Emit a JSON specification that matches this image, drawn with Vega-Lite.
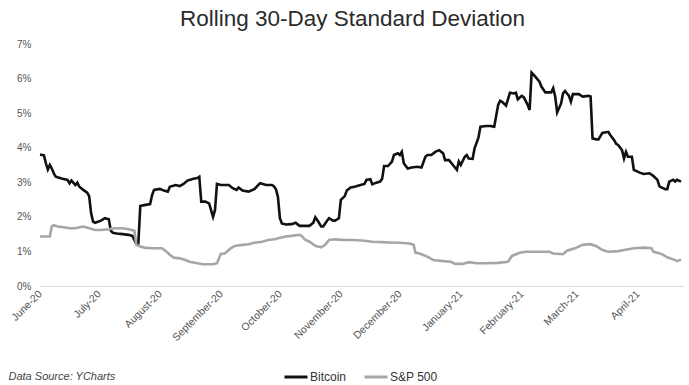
{
  "$schema": "https://vega.github.io/schema/vega-lite/v6.json",
  "autosize": {"type": "none"},
  "padding": {"left": 40, "top": 44, "right": 6, "bottom": 99},
  "width": 643,
  "height": 242,
  "background": "white",
  "config": {"font": "Liberation Sans", "view": {"stroke": null}},
  "title": {"text": "Rolling 30-Day Standard Deviation", "fontSize": 22.5, "fontWeight": "normal", "color": "#2b2b2b", "anchor": "middle", "dx": -9, "offset": 9, "font": "Liberation Sans"},
  "data": {"values": [
    {"series":"Bitcoin","date":"2020-06-01","value":3.80},{"series":"Bitcoin","date":"2020-06-03","value":3.78},{"series":"Bitcoin","date":"2020-06-04","value":3.55},{"series":"Bitcoin","date":"2020-06-05","value":3.37},{"series":"Bitcoin","date":"2020-06-06","value":3.50},{"series":"Bitcoin","date":"2020-06-07","value":3.40},{"series":"Bitcoin","date":"2020-06-08","value":3.26},{"series":"Bitcoin","date":"2020-06-09","value":3.16},{"series":"Bitcoin","date":"2020-06-12","value":3.11},{"series":"Bitcoin","date":"2020-06-15","value":3.07},{"series":"Bitcoin","date":"2020-06-16","value":2.97},{"series":"Bitcoin","date":"2020-06-17","value":3.05},{"series":"Bitcoin","date":"2020-06-19","value":2.92},{"series":"Bitcoin","date":"2020-06-20","value":2.99},{"series":"Bitcoin","date":"2020-06-21","value":2.87},{"series":"Bitcoin","date":"2020-06-23","value":2.78},{"series":"Bitcoin","date":"2020-06-25","value":2.70},{"series":"Bitcoin","date":"2020-06-26","value":2.60},{"series":"Bitcoin","date":"2020-06-27","value":2.10},{"series":"Bitcoin","date":"2020-06-28","value":1.86},{"series":"Bitcoin","date":"2020-06-29","value":1.83},
    {"series":"Bitcoin","date":"2020-07-02","value":1.89},{"series":"Bitcoin","date":"2020-07-04","value":1.96},{"series":"Bitcoin","date":"2020-07-06","value":1.93},{"series":"Bitcoin","date":"2020-07-07","value":1.60},{"series":"Bitcoin","date":"2020-07-08","value":1.54},{"series":"Bitcoin","date":"2020-07-10","value":1.52},{"series":"Bitcoin","date":"2020-07-13","value":1.50},{"series":"Bitcoin","date":"2020-07-16","value":1.48},{"series":"Bitcoin","date":"2020-07-18","value":1.45},{"series":"Bitcoin","date":"2020-07-19","value":1.33},{"series":"Bitcoin","date":"2020-07-20","value":1.21},{"series":"Bitcoin","date":"2020-07-21","value":1.23},{"series":"Bitcoin","date":"2020-07-22","value":2.31},{"series":"Bitcoin","date":"2020-07-24","value":2.34},{"series":"Bitcoin","date":"2020-07-27","value":2.37},{"series":"Bitcoin","date":"2020-07-28","value":2.63},{"series":"Bitcoin","date":"2020-07-29","value":2.78},
    {"series":"Bitcoin","date":"2020-08-01","value":2.81},{"series":"Bitcoin","date":"2020-08-03","value":2.76},{"series":"Bitcoin","date":"2020-08-05","value":2.73},{"series":"Bitcoin","date":"2020-08-06","value":2.87},{"series":"Bitcoin","date":"2020-08-09","value":2.92},{"series":"Bitcoin","date":"2020-08-11","value":2.89},{"series":"Bitcoin","date":"2020-08-13","value":2.95},{"series":"Bitcoin","date":"2020-08-15","value":3.05},{"series":"Bitcoin","date":"2020-08-18","value":3.10},{"series":"Bitcoin","date":"2020-08-20","value":3.12},{"series":"Bitcoin","date":"2020-08-21","value":3.16},{"series":"Bitcoin","date":"2020-08-22","value":2.44},{"series":"Bitcoin","date":"2020-08-24","value":2.44},{"series":"Bitcoin","date":"2020-08-26","value":2.39},{"series":"Bitcoin","date":"2020-08-28","value":2.00},{"series":"Bitcoin","date":"2020-08-29","value":2.20},{"series":"Bitcoin","date":"2020-08-30","value":2.95},
    {"series":"Bitcoin","date":"2020-09-01","value":2.92},{"series":"Bitcoin","date":"2020-09-05","value":2.92},{"series":"Bitcoin","date":"2020-09-07","value":2.83},{"series":"Bitcoin","date":"2020-09-09","value":2.78},{"series":"Bitcoin","date":"2020-09-10","value":2.85},{"series":"Bitcoin","date":"2020-09-12","value":2.76},{"series":"Bitcoin","date":"2020-09-15","value":2.73},{"series":"Bitcoin","date":"2020-09-18","value":2.80},{"series":"Bitcoin","date":"2020-09-20","value":2.92},{"series":"Bitcoin","date":"2020-09-21","value":2.97},{"series":"Bitcoin","date":"2020-09-24","value":2.92},{"series":"Bitcoin","date":"2020-09-27","value":2.92},{"series":"Bitcoin","date":"2020-09-28","value":2.88},{"series":"Bitcoin","date":"2020-09-29","value":2.80},{"series":"Bitcoin","date":"2020-09-30","value":2.58},
    {"series":"Bitcoin","date":"2020-10-01","value":1.96},{"series":"Bitcoin","date":"2020-10-02","value":1.81},{"series":"Bitcoin","date":"2020-10-04","value":1.78},{"series":"Bitcoin","date":"2020-10-07","value":1.79},{"series":"Bitcoin","date":"2020-10-09","value":1.83},{"series":"Bitcoin","date":"2020-10-11","value":1.74},{"series":"Bitcoin","date":"2020-10-14","value":1.74},{"series":"Bitcoin","date":"2020-10-16","value":1.74},{"series":"Bitcoin","date":"2020-10-18","value":1.83},{"series":"Bitcoin","date":"2020-10-19","value":1.99},{"series":"Bitcoin","date":"2020-10-20","value":1.91},{"series":"Bitcoin","date":"2020-10-22","value":1.72},{"series":"Bitcoin","date":"2020-10-23","value":1.72},{"series":"Bitcoin","date":"2020-10-25","value":1.89},{"series":"Bitcoin","date":"2020-10-26","value":1.96},{"series":"Bitcoin","date":"2020-10-28","value":1.89},{"series":"Bitcoin","date":"2020-10-29","value":1.89},{"series":"Bitcoin","date":"2020-10-31","value":1.96},
    {"series":"Bitcoin","date":"2020-11-01","value":2.49},{"series":"Bitcoin","date":"2020-11-03","value":2.60},{"series":"Bitcoin","date":"2020-11-04","value":2.76},{"series":"Bitcoin","date":"2020-11-06","value":2.85},{"series":"Bitcoin","date":"2020-11-08","value":2.87},{"series":"Bitcoin","date":"2020-11-11","value":2.92},{"series":"Bitcoin","date":"2020-11-13","value":2.95},{"series":"Bitcoin","date":"2020-11-14","value":3.07},{"series":"Bitcoin","date":"2020-11-16","value":3.09},{"series":"Bitcoin","date":"2020-11-17","value":2.94},{"series":"Bitcoin","date":"2020-11-19","value":2.99},{"series":"Bitcoin","date":"2020-11-21","value":3.02},{"series":"Bitcoin","date":"2020-11-22","value":3.10},{"series":"Bitcoin","date":"2020-11-23","value":3.47},{"series":"Bitcoin","date":"2020-11-25","value":3.47},{"series":"Bitcoin","date":"2020-11-27","value":3.60},{"series":"Bitcoin","date":"2020-11-28","value":3.79},{"series":"Bitcoin","date":"2020-11-30","value":3.84},
    {"series":"Bitcoin","date":"2020-12-01","value":3.79},{"series":"Bitcoin","date":"2020-12-02","value":3.88},{"series":"Bitcoin","date":"2020-12-03","value":3.55},{"series":"Bitcoin","date":"2020-12-05","value":3.40},{"series":"Bitcoin","date":"2020-12-07","value":3.43},{"series":"Bitcoin","date":"2020-12-10","value":3.45},{"series":"Bitcoin","date":"2020-12-12","value":3.43},{"series":"Bitcoin","date":"2020-12-14","value":3.74},{"series":"Bitcoin","date":"2020-12-15","value":3.79},{"series":"Bitcoin","date":"2020-12-17","value":3.79},{"series":"Bitcoin","date":"2020-12-19","value":3.88},{"series":"Bitcoin","date":"2020-12-21","value":3.93},{"series":"Bitcoin","date":"2020-12-23","value":3.84},{"series":"Bitcoin","date":"2020-12-24","value":3.64},{"series":"Bitcoin","date":"2020-12-26","value":3.64},{"series":"Bitcoin","date":"2020-12-28","value":3.50},{"series":"Bitcoin","date":"2020-12-30","value":3.36},{"series":"Bitcoin","date":"2020-12-31","value":3.60},
    {"series":"Bitcoin","date":"2021-01-01","value":3.50},{"series":"Bitcoin","date":"2021-01-03","value":3.74},{"series":"Bitcoin","date":"2021-01-04","value":3.79},{"series":"Bitcoin","date":"2021-01-05","value":3.69},{"series":"Bitcoin","date":"2021-01-07","value":3.68},{"series":"Bitcoin","date":"2021-01-08","value":3.98},{"series":"Bitcoin","date":"2021-01-10","value":4.30},{"series":"Bitcoin","date":"2021-01-11","value":4.61},{"series":"Bitcoin","date":"2021-01-14","value":4.63},{"series":"Bitcoin","date":"2021-01-16","value":4.63},{"series":"Bitcoin","date":"2021-01-18","value":4.61},{"series":"Bitcoin","date":"2021-01-20","value":5.24},{"series":"Bitcoin","date":"2021-01-21","value":5.36},{"series":"Bitcoin","date":"2021-01-22","value":5.33},{"series":"Bitcoin","date":"2021-01-24","value":5.22},{"series":"Bitcoin","date":"2021-01-26","value":5.59},{"series":"Bitcoin","date":"2021-01-28","value":5.57},{"series":"Bitcoin","date":"2021-01-29","value":5.59},{"series":"Bitcoin","date":"2021-01-30","value":5.40},
    {"series":"Bitcoin","date":"2021-02-01","value":5.50},{"series":"Bitcoin","date":"2021-02-02","value":5.46},{"series":"Bitcoin","date":"2021-02-04","value":5.24},{"series":"Bitcoin","date":"2021-02-05","value":5.09},{"series":"Bitcoin","date":"2021-02-06","value":6.17},{"series":"Bitcoin","date":"2021-02-08","value":6.05},{"series":"Bitcoin","date":"2021-02-10","value":5.91},{"series":"Bitcoin","date":"2021-02-11","value":5.77},{"series":"Bitcoin","date":"2021-02-13","value":5.60},{"series":"Bitcoin","date":"2021-02-16","value":5.60},{"series":"Bitcoin","date":"2021-02-17","value":5.72},{"series":"Bitcoin","date":"2021-02-18","value":5.48},{"series":"Bitcoin","date":"2021-02-19","value":5.02},{"series":"Bitcoin","date":"2021-02-21","value":5.28},{"series":"Bitcoin","date":"2021-02-22","value":5.57},{"series":"Bitcoin","date":"2021-02-23","value":5.64},{"series":"Bitcoin","date":"2021-02-25","value":5.50},{"series":"Bitcoin","date":"2021-02-26","value":5.33},{"series":"Bitcoin","date":"2021-02-27","value":5.55},
    {"series":"Bitcoin","date":"2021-03-02","value":5.55},{"series":"Bitcoin","date":"2021-03-04","value":5.48},{"series":"Bitcoin","date":"2021-03-07","value":5.50},{"series":"Bitcoin","date":"2021-03-08","value":5.48},{"series":"Bitcoin","date":"2021-03-09","value":4.27},{"series":"Bitcoin","date":"2021-03-11","value":4.24},{"series":"Bitcoin","date":"2021-03-12","value":4.24},{"series":"Bitcoin","date":"2021-03-14","value":4.43},{"series":"Bitcoin","date":"2021-03-17","value":4.46},{"series":"Bitcoin","date":"2021-03-18","value":4.37},{"series":"Bitcoin","date":"2021-03-20","value":4.22},{"series":"Bitcoin","date":"2021-03-21","value":4.11},{"series":"Bitcoin","date":"2021-03-22","value":4.08},{"series":"Bitcoin","date":"2021-03-24","value":3.93},{"series":"Bitcoin","date":"2021-03-25","value":3.69},{"series":"Bitcoin","date":"2021-03-26","value":3.88},{"series":"Bitcoin","date":"2021-03-27","value":3.74},{"series":"Bitcoin","date":"2021-03-29","value":3.74},{"series":"Bitcoin","date":"2021-03-30","value":3.36},
    {"series":"Bitcoin","date":"2021-04-02","value":3.28},{"series":"Bitcoin","date":"2021-04-04","value":3.24},{"series":"Bitcoin","date":"2021-04-07","value":3.26},{"series":"Bitcoin","date":"2021-04-09","value":3.18},{"series":"Bitcoin","date":"2021-04-11","value":3.07},{"series":"Bitcoin","date":"2021-04-12","value":2.89},{"series":"Bitcoin","date":"2021-04-13","value":2.85},{"series":"Bitcoin","date":"2021-04-15","value":2.80},{"series":"Bitcoin","date":"2021-04-16","value":2.80},{"series":"Bitcoin","date":"2021-04-17","value":3.02},{"series":"Bitcoin","date":"2021-04-19","value":3.07},{"series":"Bitcoin","date":"2021-04-20","value":3.02},{"series":"Bitcoin","date":"2021-04-21","value":3.07},{"series":"Bitcoin","date":"2021-04-23","value":3.02},
    {"series":"S&P 500","date":"2020-06-01","value":1.43},{"series":"S&P 500","date":"2020-06-06","value":1.43},{"series":"S&P 500","date":"2020-06-07","value":1.72},{"series":"S&P 500","date":"2020-06-08","value":1.76},{"series":"S&P 500","date":"2020-06-10","value":1.72},{"series":"S&P 500","date":"2020-06-14","value":1.69},{"series":"S&P 500","date":"2020-06-16","value":1.67},{"series":"S&P 500","date":"2020-06-19","value":1.67},{"series":"S&P 500","date":"2020-06-21","value":1.70},{"series":"S&P 500","date":"2020-06-23","value":1.72},{"series":"S&P 500","date":"2020-06-26","value":1.67},{"series":"S&P 500","date":"2020-06-29","value":1.62},
    {"series":"S&P 500","date":"2020-07-02","value":1.62},{"series":"S&P 500","date":"2020-07-06","value":1.64},{"series":"S&P 500","date":"2020-07-09","value":1.67},{"series":"S&P 500","date":"2020-07-13","value":1.67},{"series":"S&P 500","date":"2020-07-16","value":1.64},{"series":"S&P 500","date":"2020-07-19","value":1.60},{"series":"S&P 500","date":"2020-07-20","value":1.19},{"series":"S&P 500","date":"2020-07-22","value":1.14},{"series":"S&P 500","date":"2020-07-24","value":1.11},{"series":"S&P 500","date":"2020-07-28","value":1.09},
    {"series":"S&P 500","date":"2020-08-02","value":1.09},{"series":"S&P 500","date":"2020-08-05","value":0.96},{"series":"S&P 500","date":"2020-08-06","value":0.90},{"series":"S&P 500","date":"2020-08-08","value":0.82},{"series":"S&P 500","date":"2020-08-11","value":0.80},{"series":"S&P 500","date":"2020-08-14","value":0.75},{"series":"S&P 500","date":"2020-08-16","value":0.70},{"series":"S&P 500","date":"2020-08-20","value":0.66},{"series":"S&P 500","date":"2020-08-23","value":0.63},{"series":"S&P 500","date":"2020-08-28","value":0.63},{"series":"S&P 500","date":"2020-08-30","value":0.66},
    {"series":"S&P 500","date":"2020-09-01","value":0.93},{"series":"S&P 500","date":"2020-09-03","value":0.94},{"series":"S&P 500","date":"2020-09-06","value":1.09},{"series":"S&P 500","date":"2020-09-08","value":1.16},{"series":"S&P 500","date":"2020-09-12","value":1.19},{"series":"S&P 500","date":"2020-09-15","value":1.21},{"series":"S&P 500","date":"2020-09-18","value":1.25},{"series":"S&P 500","date":"2020-09-22","value":1.28},{"series":"S&P 500","date":"2020-09-25","value":1.33},{"series":"S&P 500","date":"2020-09-29","value":1.36},{"series":"S&P 500","date":"2020-09-30","value":1.38},
    {"series":"S&P 500","date":"2020-10-04","value":1.43},{"series":"S&P 500","date":"2020-10-07","value":1.45},{"series":"S&P 500","date":"2020-10-11","value":1.48},{"series":"S&P 500","date":"2020-10-12","value":1.45},{"series":"S&P 500","date":"2020-10-14","value":1.33},{"series":"S&P 500","date":"2020-10-16","value":1.28},{"series":"S&P 500","date":"2020-10-19","value":1.16},{"series":"S&P 500","date":"2020-10-22","value":1.12},{"series":"S&P 500","date":"2020-10-24","value":1.19},{"series":"S&P 500","date":"2020-10-26","value":1.33},{"series":"S&P 500","date":"2020-10-29","value":1.35},
    {"series":"S&P 500","date":"2020-11-03","value":1.33},{"series":"S&P 500","date":"2020-11-08","value":1.33},{"series":"S&P 500","date":"2020-11-13","value":1.31},{"series":"S&P 500","date":"2020-11-17","value":1.28},{"series":"S&P 500","date":"2020-11-22","value":1.27},{"series":"S&P 500","date":"2020-11-26","value":1.26},
    {"series":"S&P 500","date":"2020-12-01","value":1.25},{"series":"S&P 500","date":"2020-12-06","value":1.23},{"series":"S&P 500","date":"2020-12-08","value":1.19},{"series":"S&P 500","date":"2020-12-09","value":0.96},{"series":"S&P 500","date":"2020-12-11","value":0.94},{"series":"S&P 500","date":"2020-12-15","value":0.85},{"series":"S&P 500","date":"2020-12-18","value":0.75},{"series":"S&P 500","date":"2020-12-23","value":0.72},{"series":"S&P 500","date":"2020-12-27","value":0.70},{"series":"S&P 500","date":"2020-12-29","value":0.64},
    {"series":"S&P 500","date":"2021-01-02","value":0.64},{"series":"S&P 500","date":"2021-01-05","value":0.69},{"series":"S&P 500","date":"2021-01-09","value":0.66},{"series":"S&P 500","date":"2021-01-14","value":0.66},{"series":"S&P 500","date":"2021-01-20","value":0.67},{"series":"S&P 500","date":"2021-01-25","value":0.70},{"series":"S&P 500","date":"2021-01-27","value":0.87},{"series":"S&P 500","date":"2021-01-31","value":0.96},
    {"series":"S&P 500","date":"2021-02-03","value":0.99},{"series":"S&P 500","date":"2021-02-08","value":0.99},{"series":"S&P 500","date":"2021-02-15","value":0.99},{"series":"S&P 500","date":"2021-02-17","value":0.94},{"series":"S&P 500","date":"2021-02-22","value":0.92},{"series":"S&P 500","date":"2021-02-24","value":1.02},{"series":"S&P 500","date":"2021-02-28","value":1.09},
    {"series":"S&P 500","date":"2021-03-04","value":1.19},{"series":"S&P 500","date":"2021-03-08","value":1.21},{"series":"S&P 500","date":"2021-03-11","value":1.15},{"series":"S&P 500","date":"2021-03-14","value":1.04},{"series":"S&P 500","date":"2021-03-17","value":0.99},{"series":"S&P 500","date":"2021-03-22","value":1.01},{"series":"S&P 500","date":"2021-03-25","value":1.04},{"series":"S&P 500","date":"2021-03-30","value":1.09},
    {"series":"S&P 500","date":"2021-04-04","value":1.11},{"series":"S&P 500","date":"2021-04-08","value":1.09},{"series":"S&P 500","date":"2021-04-09","value":0.99},{"series":"S&P 500","date":"2021-04-13","value":0.93},{"series":"S&P 500","date":"2021-04-16","value":0.83},{"series":"S&P 500","date":"2021-04-19","value":0.77},{"series":"S&P 500","date":"2021-04-21","value":0.72},{"series":"S&P 500","date":"2021-04-23","value":0.77}
  ]},
  "mark": {"type": "line", "strokeWidth": 2.6, "interpolate": "linear"},
  "encoding": {
    "x": {
      "field": "date", "type": "temporal",
      "scale": {"domain": ["2020-06-01", "2021-04-24"]},
      "axis": {
        "title": "Data Source: YCharts", "titleFontStyle": "italic", "titleFontWeight": "normal", "titleFontSize": 11, "titleColor": "#444444",
        "titleAnchor": "start", "titleAlign": "left", "titleBaseline": "middle", "titleX": -32, "titleY": 90,
        "format": "%B-%y", "tickCount": {"interval": "month", "step": 1},
        "labelAngle": -45, "labelAlign": "right", "labelBaseline": "middle", "labelFontSize": 10.5, "labelColor": "#555555", "labelPadding": 6,
        "ticks": false, "domainColor": "#d9d9d9", "domainWidth": 1, "grid": false, "labelOverlap": false, "labelFlush": false, "labelBound": false
      }
    },
    "y": {
      "field": "value", "type": "quantitative",
      "scale": {"domain": [0, 7], "nice": false, "zero": true},
      "axis": {
        "title": null, "values": [0,1,2,3,4,5,6,7], "labelExpr": "datum.value + '%'",
        "labelFontSize": 10, "labelColor": "#555555", "labelPadding": 9,
        "ticks": false, "domain": false, "grid": false
      }
    },
    "color": {
      "field": "series", "type": "nominal",
      "scale": {"domain": ["Bitcoin", "S&P 500"], "range": ["#111111", "#a6a6a6"]},
      "legend": {
        "title": null, "orient": "none", "direction": "horizontal", "legendX": 243, "legendY": 320,
        "symbolType": "stroke", "symbolStrokeWidth": 3, "symbolSize": 529, "labelFontSize": 12, "labelColor": "#333333",
        "columnPadding": 11, "labelOffset": 1
      }
    }
  }
}
